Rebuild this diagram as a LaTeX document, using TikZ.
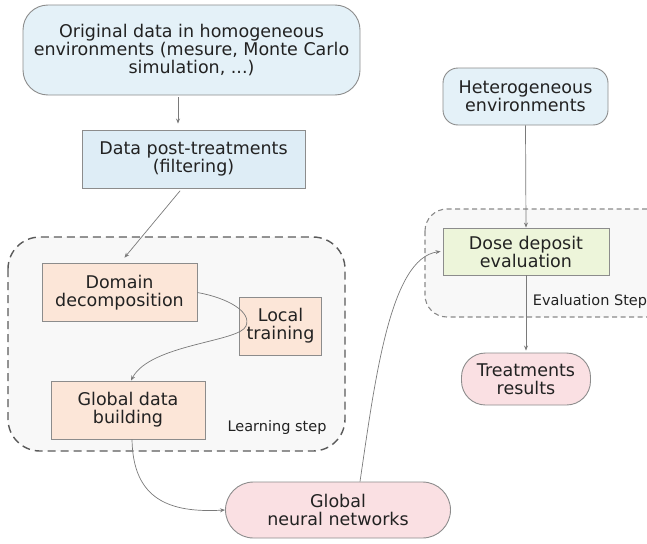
\documentclass[tikz,border=0pt]{standalone}
\usepackage{fontspec}
\setmainfont{DejaVu Sans}
\usetikzlibrary{arrows.meta,calc}
\definecolor{bluefill}{HTML}{E4F1F8}
\definecolor{bluefillb}{HTML}{DEEDF6}
\definecolor{orangefill}{HTML}{FCE6D8}
\definecolor{greenfill}{HTML}{EDF5DA}
\definecolor{pinkfill}{HTML}{FAE0E3}
\definecolor{contfill}{HTML}{F8F8F8}
\definecolor{edgegray}{HTML}{8C8C8C}
\definecolor{linegray}{HTML}{7A7A7A}
\definecolor{dashgray}{HTML}{5A5A5A}
\definecolor{dashgraylight}{HTML}{8A8A8A}
\definecolor{txt}{HTML}{222222}
\tikzset{
  box/.style={draw=edgegray, line width=0.9pt, align=center, inner sep=0pt,
    text=txt, font=\fontsize{17.5}{18}\selectfont},
  container/.style={draw=dashgray, fill=contfill, line width=1.4pt, dash pattern=on 8pt off 5pt},
  containerb/.style={draw=dashgraylight, fill=contfill, line width=1.1pt, dash pattern=on 5pt off 3.5pt},
  arr/.style={draw=linegray, line width=0.7pt, -{Stealth[length=5pt,width=4pt]}},
  plain/.style={draw=linegray, line width=0.7pt},
  steplabel/.style={text=txt, font=\fontsize{14.5}{16}\selectfont, inner sep=0pt}
}
\begin{document}
\begin{tikzpicture}[x=1pt,y=-1pt]
\useasboundingbox (0,0) rectangle (647,543);
\clip (0,0) rectangle (647,543);
% containers
\path[container, rounded corners=32pt] (8,237) rectangle (345,451);
\path[containerb, rounded corners=22pt] (425,209) rectangle (670,317);
% nodes
\node[box, fill=bluefill, rounded corners=25pt, minimum width=337pt, minimum height=90pt] (top) at (191.5,50)
  {Original data in homogeneous\\environments (mesure, Monte Carlo\\simulation, ...)};
\node[box, fill=bluefillb, minimum width=223pt, minimum height=58pt] (dpt) at (193.5,159)
  {Data post-treatments\\(filtering)};
\node[box, fill=orangefill, minimum width=155pt, minimum height=58pt] (dom) at (119.5,292.5)
  {Domain\\decomposition};
\node[box, fill=orangefill, minimum width=82pt, minimum height=58pt] (lt) at (280.5,326)
  {Local\\training};
\node[box, fill=orangefill, minimum width=154pt, minimum height=58pt] (gdb) at (128,410)
  {Global data\\building};
\node[box, fill=pinkfill, rounded corners=28pt, minimum width=225pt, minimum height=56pt] (gnn) at (338,510)
  {Global\\neural networks};
\node[box, fill=bluefill, rounded corners=15pt, minimum width=165pt, minimum height=57pt] (het) at (525.5,96.5)
  {Heterogeneous\\environments};
\node[box, fill=greenfill, minimum width=166pt, minimum height=47pt] (dde) at (526,251.5)
  {Dose deposit\\evaluation};
\node[box, fill=pinkfill, rounded corners=24pt, minimum width=129pt, minimum height=52pt] (tr) at (526,379)
  {Treatments\\results};
\node[steplabel] (ls) at (277,427) {Learning step};
\node[steplabel] (es) at (590,301) {Evaluation Step};
% connectors
\draw[arr, shorten >=6pt, shorten <=2pt] ([xshift=-13.5pt]top.south) -- ([xshift=-15.5pt]dpt.north);
\draw[arr, shorten <=3pt, shorten >=7pt] ([xshift=-11.5pt]dpt.south) -- ([xshift=0.5pt]dom.north);
\coordinate (loop) at (246,326);
\draw[plain] (dom.east) .. controls (228,298) and (252,312) .. (loop);
\draw[arr] (loop) .. controls (240,342) and (150,344) .. ([xshift=3pt]gdb.north);
\draw[arr] ([xshift=4pt]gdb.south) .. controls (133,500) and (170,513) .. (gnn.west);
\draw[arr] ([xshift=22pt]gnn.north) .. controls (375,380) and (390,258) .. ([xshift=-2pt]dde.west);
\draw[arr] (het.south) -- (dde.north);
\draw[arr, shorten >=2pt] (dde.south) -- (tr.north);
\end{tikzpicture}
\end{document}
